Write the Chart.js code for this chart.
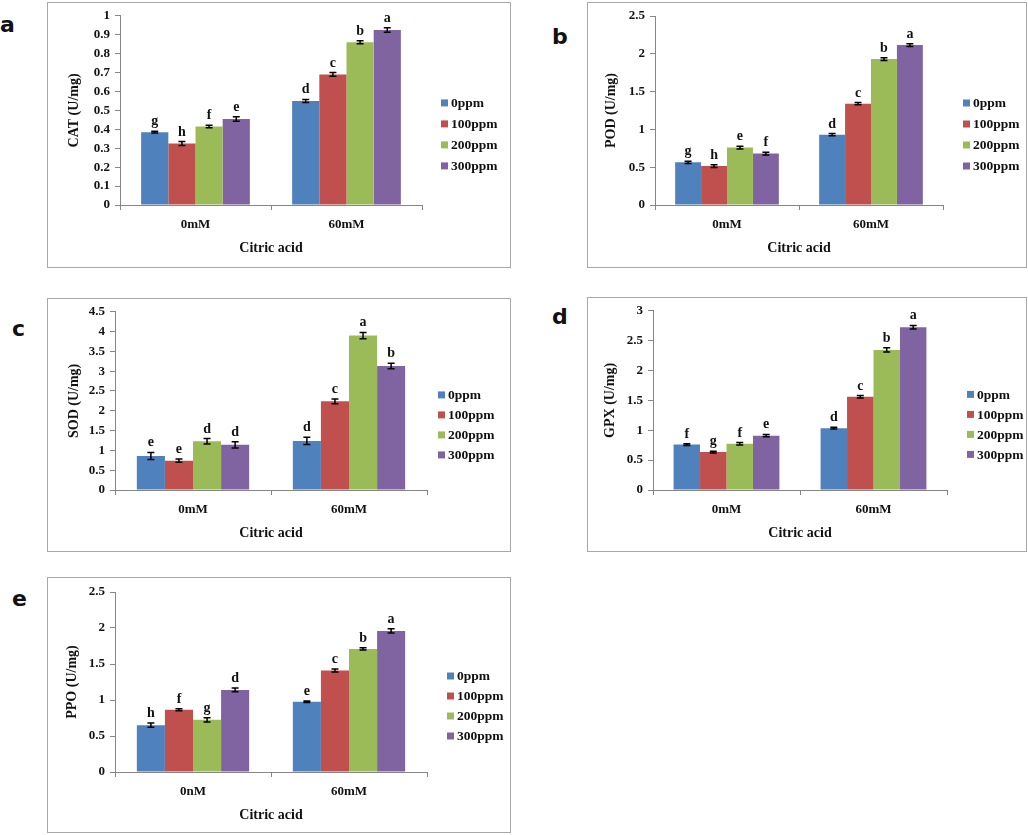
<!DOCTYPE html>
<html>
<head>
<meta charset="utf-8">
<script src="https://cdn.jsdelivr.net/npm/chart.js@4.4.0/dist/chart.umd.min.js"></script>
<style>
  body { margin: 0; background: #fff; width: 1028px; height: 835px; position: relative; overflow: hidden; }
  .box { position: absolute; border: 1px solid #a8a8a8; box-sizing: border-box; }
  .box canvas { position: absolute; left: 0; top: 0; }
  .tag { position: absolute; font: bold 22px "DejaVu Sans"; line-height: 1; color: #111; }
</style>
</head>
<body>
<div class="tag" style="left:0px;top:14px">a</div>
<div class="tag" style="left:552px;top:26px">b</div>
<div class="tag" style="left:12px;top:318px">c</div>
<div class="tag" style="left:552px;top:306px">d</div>
<div class="tag" style="left:12px;top:588px">e</div>

<div class="box" id="boxA"><canvas id="chartA"></canvas></div>
<div class="box" id="boxB"><canvas id="chartB"></canvas></div>
<div class="box" id="boxC"><canvas id="chartC"></canvas></div>
<div class="box" id="boxD"><canvas id="chartD"></canvas></div>
<div class="box" id="boxE"><canvas id="chartE"></canvas></div>

<script>
const groups = ["0mM", "60mM"];
const groupsE = ["0nM", "60mM"]; // panel e is labelled this way in the original
const doses = ["0ppm", "100ppm", "200ppm", "300ppm"];
const colors = ["#4F81BD", "#C0504D", "#9BBB59", "#8064A2"];

// one row per dose, values for [0mM, 60mM]
const catMean = [[0.385, 0.55], [0.325, 0.69], [0.415, 0.86], [0.455, 0.925]];
const catErr = [[0.005, 0.008], [0.01, 0.01], [0.007, 0.008], [0.012, 0.012]];
const catLetters = [["g", "d"], ["h", "c"], ["f", "b"], ["e", "a"]];

const podMean = [[0.565, 0.93], [0.515, 1.34], [0.76, 1.93], [0.68, 2.115]];
const podErr = [[0.015, 0.015], [0.018, 0.015], [0.018, 0.018], [0.018, 0.018]];
const podLetters = [["g", "d"], ["h", "c"], ["e", "b"], ["f", "a"]];

const sodMean = [[0.86, 1.24], [0.74, 2.24], [1.23, 3.9], [1.14, 3.13]];
const sodErr = [[0.09, 0.09], [0.04, 0.06], [0.07, 0.08], [0.08, 0.07]];
const sodLetters = [["e", "d"], ["e", "c"], ["d", "a"], ["d", "b"]];

const gpxMean = [[0.76, 1.035], [0.635, 1.56], [0.775, 2.345], [0.91, 2.725]];
const gpxErr = [[0.015, 0.015], [0.015, 0.02], [0.02, 0.035], [0.02, 0.03]];
const gpxLetters = [["f", "d"], ["g", "c"], ["f", "b"], ["e", "a"]];

const ppoMean = [[0.65, 0.975], [0.865, 1.41], [0.725, 1.71], [1.14, 1.96]];
const ppoErr = [[0.03, 0.01], [0.015, 0.02], [0.03, 0.015], [0.025, 0.03]];
const ppoLetters = [["h", "e"], ["f", "c"], ["g", "b"], ["d", "a"]];

const yTitles = ["CAT (U/mg)", "POD (U/mg)", "SOD (U/mg)", "GPX (U/mg)", "PPO (U/mg)"];
const yMax = [1, 2.5, 4.5, 3, 2.5];
const yStep = [0.1, 0.5, 0.5, 0.5, 0.5];

const serif = "Liberation Serif";
const axisGray = "#868686";

// error bars and significance letters on top of each bar
const errorBars = {
  id: "errorBars",
  afterDatasetsDraw(chart) {
    const ctx = chart.ctx;
    const y = chart.scales.y;
    ctx.save();
    chart.data.datasets.forEach((ds, i) => {
      chart.getDatasetMeta(i).data.forEach((bar, j) => {
        const v = ds.data[j], e = ds.err[j];
        const top = y.getPixelForValue(v + e);
        const bot = y.getPixelForValue(v - e);
        ctx.strokeStyle = "#000";
        ctx.lineWidth = 1.5;
        ctx.beginPath();
        ctx.moveTo(bar.x, top); ctx.lineTo(bar.x, bot);
        ctx.moveTo(bar.x - 3.5, top); ctx.lineTo(bar.x + 3.5, top);
        ctx.moveTo(bar.x - 3.5, bot); ctx.lineTo(bar.x + 3.5, bot);
        ctx.stroke();
        ctx.fillStyle = "#111";
        ctx.font = "bold 14px 'Liberation Serif'";
        ctx.textAlign = "center";
        ctx.textBaseline = "alphabetic";
        ctx.fillText(ds.letters[j], bar.x, top - 6);
      });
    });
    ctx.restore();
  }
};

// legend to the right of the plot, like the Excel one
const sideLegend = {
  id: "sideLegend",
  afterDraw(chart, args, opts) {
    const ctx = chart.ctx;
    const area = chart.chartArea;
    const n = chart.data.datasets.length;
    const cy = (area.top + area.bottom) / 2 + 24;
    const x = area.right + opts.dx;
    ctx.save();
    ctx.font = "bold 13.5px 'Liberation Serif'";
    ctx.textBaseline = "middle";
    ctx.textAlign = "left";
    chart.data.datasets.forEach((ds, i) => {
      const yy = cy + (i - (n - 1) / 2) * opts.gap;
      ctx.fillStyle = ds.backgroundColor;
      ctx.fillRect(x, yy - 3.5, 7, 7);
      ctx.fillStyle = "#111";
      ctx.fillText(ds.label, x + 10, yy + 1);
    });
    ctx.restore();
  }
};

function makePanel(n, boxId, canvasId, labels, mean, err, letters, box, area, yt, dx, gap) {
  const el = document.getElementById(boxId);
  el.style.left = box.l + "px";
  el.style.top = box.t + "px";
  el.style.width = box.w + "px";
  el.style.height = box.h + "px";
  const cx = box.l + 1, cy = box.t + 1, cw = box.w - 2, ch = box.h - 2;
  const canvas = document.getElementById(canvasId);
  canvas.width = cw;
  canvas.height = ch;

  const L = area.l - cx, T = area.t - cy, R = area.r - cx, B = area.b - cy;
  const padLeft = Math.round(L - yt - 8.4);
  const yWidth = L - padLeft;
  const xHeight = 52;
  const font = { family: serif, size: 14, weight: "bold" };
  const tickFont = { family: serif, size: 13, weight: "bold" };

  new Chart(canvas.getContext("2d"), {
    type: "bar",
    data: {
      labels: labels,
      datasets: doses.map((d, i) => ({
        label: d,
        data: mean[i],
        err: err[i],
        letters: letters[i],
        backgroundColor: colors[i],
        borderWidth: 0,
        categoryPercentage: 0.72,
        barPercentage: 1
      }))
    },
    options: {
      responsive: false,
      animation: false,
      devicePixelRatio: 1,
      layout: { padding: { left: padLeft, top: T, right: cw - R, bottom: ch - B - xHeight } },
      plugins: {
        legend: { display: false },
        tooltip: { enabled: false },
        sideLegend: { dx: dx, gap: gap }
      },
      scales: {
        x: {
          grid: { drawOnChartArea: false, tickLength: 5, color: axisGray },
          border: { color: axisGray },
          ticks: { color: "#111", padding: 7, font: tickFont },
          title: { display: true, text: "Citric acid", color: "#111", padding: 0, font: font },
          afterFit(scale) { scale.height = xHeight; }
        },
        y: {
          min: 0,
          max: yMax[n],
          grid: { drawOnChartArea: false, tickLength: 5, color: axisGray },
          border: { color: axisGray },
          ticks: {
            stepSize: yStep[n], autoSkip: false, color: "#111", padding: 5, font: tickFont,
            callback: (v) => String(Math.round(v * 10) / 10)
          },
          title: { display: true, text: yTitles[n], color: "#111", padding: 0, font: font },
          afterFit(scale) { scale.width = yWidth; }
        }
      }
    },
    plugins: [errorBars, sideLegend]
  });
}

makePanel(0, "boxA", "chartA", groups, catMean, catErr, catLetters,
  { l: 47, t: 2, w: 464, h: 266 }, { l: 120, t: 15, r: 422, b: 205 }, 46, 19, 21);
makePanel(1, "boxB", "chartB", groups, podMean, podErr, podLetters,
  { l: 587, t: 2, w: 440, h: 266 }, { l: 655, t: 16, r: 943, b: 205 }, 44, 20, 21);
makePanel(2, "boxC", "chartC", groups, sodMean, sodErr, sodLetters,
  { l: 47, t: 298, w: 464, h: 254 }, { l: 115, t: 310, r: 427, b: 490 }, 41, 11, 20);
makePanel(3, "boxD", "chartD", groups, gpxMean, gpxErr, gpxLetters,
  { l: 587, t: 297, w: 440, h: 255 }, { l: 653, t: 309, r: 947, b: 490 }, 43, 20, 20);
makePanel(4, "boxE", "chartE", groupsE, ppoMean, ppoErr, ppoLetters,
  { l: 47, t: 577, w: 464, h: 256 }, { l: 115, t: 592, r: 427, b: 772 }, 43, 20, 20);
</script>
</body>
</html>
